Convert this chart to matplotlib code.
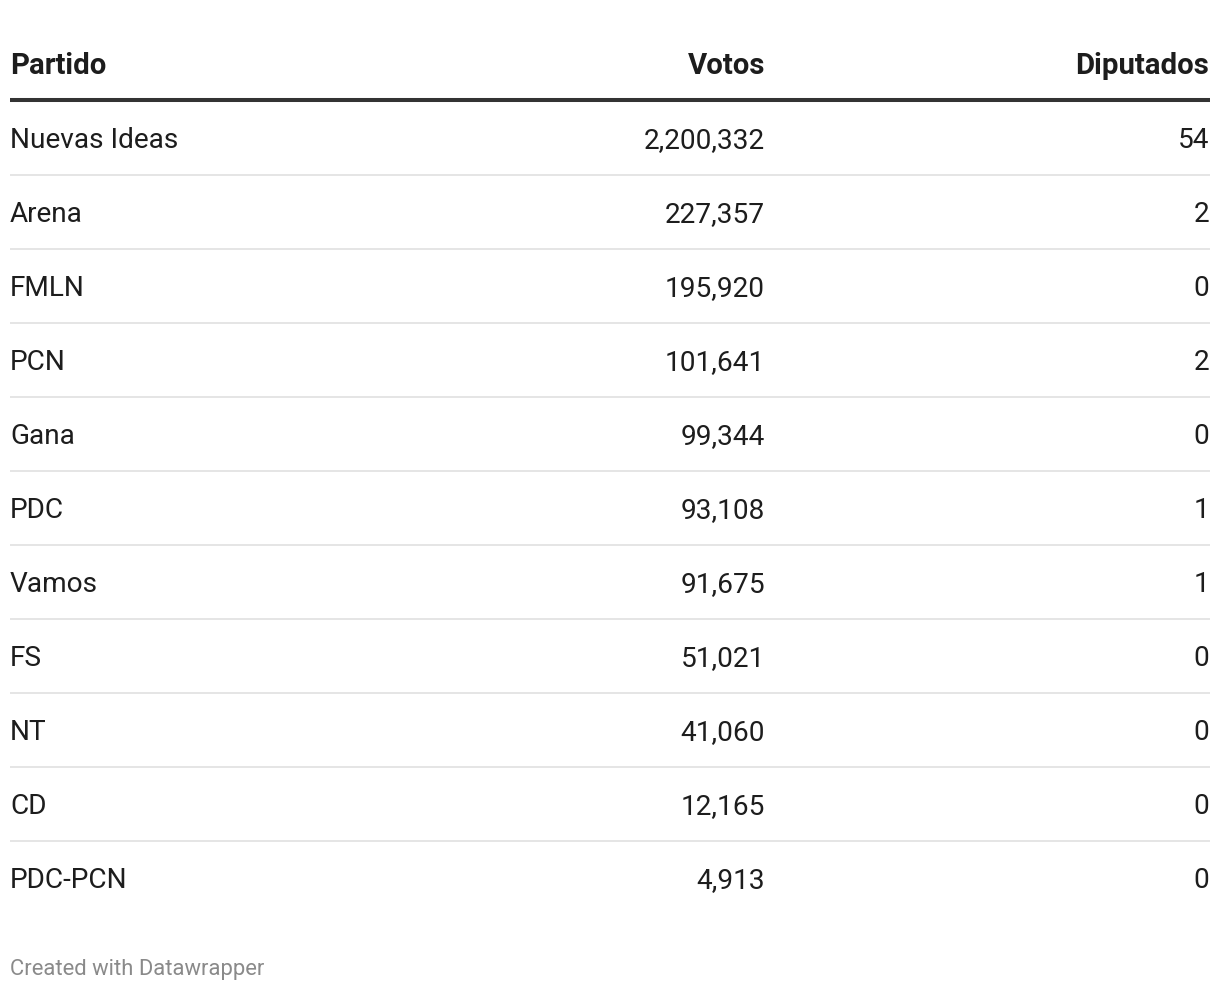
import matplotlib
matplotlib.use('Agg')
import matplotlib.pyplot as plt

partidos = ['Nuevas Ideas', 'Arena', 'FMLN', 'PCN', 'Gana', 'PDC', 'Vamos',
            'FS', 'NT', 'CD', 'PDC-PCN']
votos = [2200332, 227357, 195920, 101641, 99344, 93108, 91675,
         51021, 41060, 12165, 4913]
diputados = [54, 2, 0, 2, 0, 1, 1, 0, 0, 0, 0]
encabezados = ['Partido', 'Votos', 'Diputados']
nota = 'Created with Datawrapper'

plt.rcParams['font.family'] = ['Roboto', 'DejaVu Sans']

W, H = 1220, 990
fig = plt.figure(figsize=(W / 100, H / 100), dpi=100)
ax = fig.add_axes([0, 0, 1, 1])
ax.set_xlim(0, W)
ax.set_ylim(H, 0)
ax.axis('off')

x_izq, x_votos, x_dip = 10, 765, 1209
fs_cuerpo = 20.2   # ~28px
fs_cab = 21.2
txt = '#1d1d1d'

# encabezado
for x, t, ha in zip([x_izq, x_votos, x_dip], encabezados, ['left', 'right', 'right']):
    ax.text(x, 74, t, ha=ha, va='baseline', fontsize=fs_cab,
            fontweight='bold', color=txt)
ax.plot([10, 1210], [100, 100], color='#333333', lw=2.9, solid_capstyle='butt')

paso = 74
for i, (p, v, d) in enumerate(zip(partidos, votos, diputados)):
    yb = 148 + paso * i
    ax.text(x_izq, yb, p, ha='left', va='baseline', fontsize=fs_cuerpo, color=txt)
    ax.text(x_votos, yb, '{:,}'.format(v), ha='right', va='baseline',
            fontsize=fs_cuerpo, color=txt)
    ax.text(x_dip, yb, str(d), ha='right', va='baseline', fontsize=fs_cuerpo, color=txt)
    if i < len(partidos) - 1:
        ysep = 175 + paso * i
        ax.plot([10, 1210], [ysep, ysep], color='#e5e5e5', lw=1.4, solid_capstyle='butt')

ax.text(x_izq, 975, nota, ha='left', va='baseline', fontsize=15.8, color='#8a8a8a')

fig.savefig('out.png', dpi=100, facecolor='white')
